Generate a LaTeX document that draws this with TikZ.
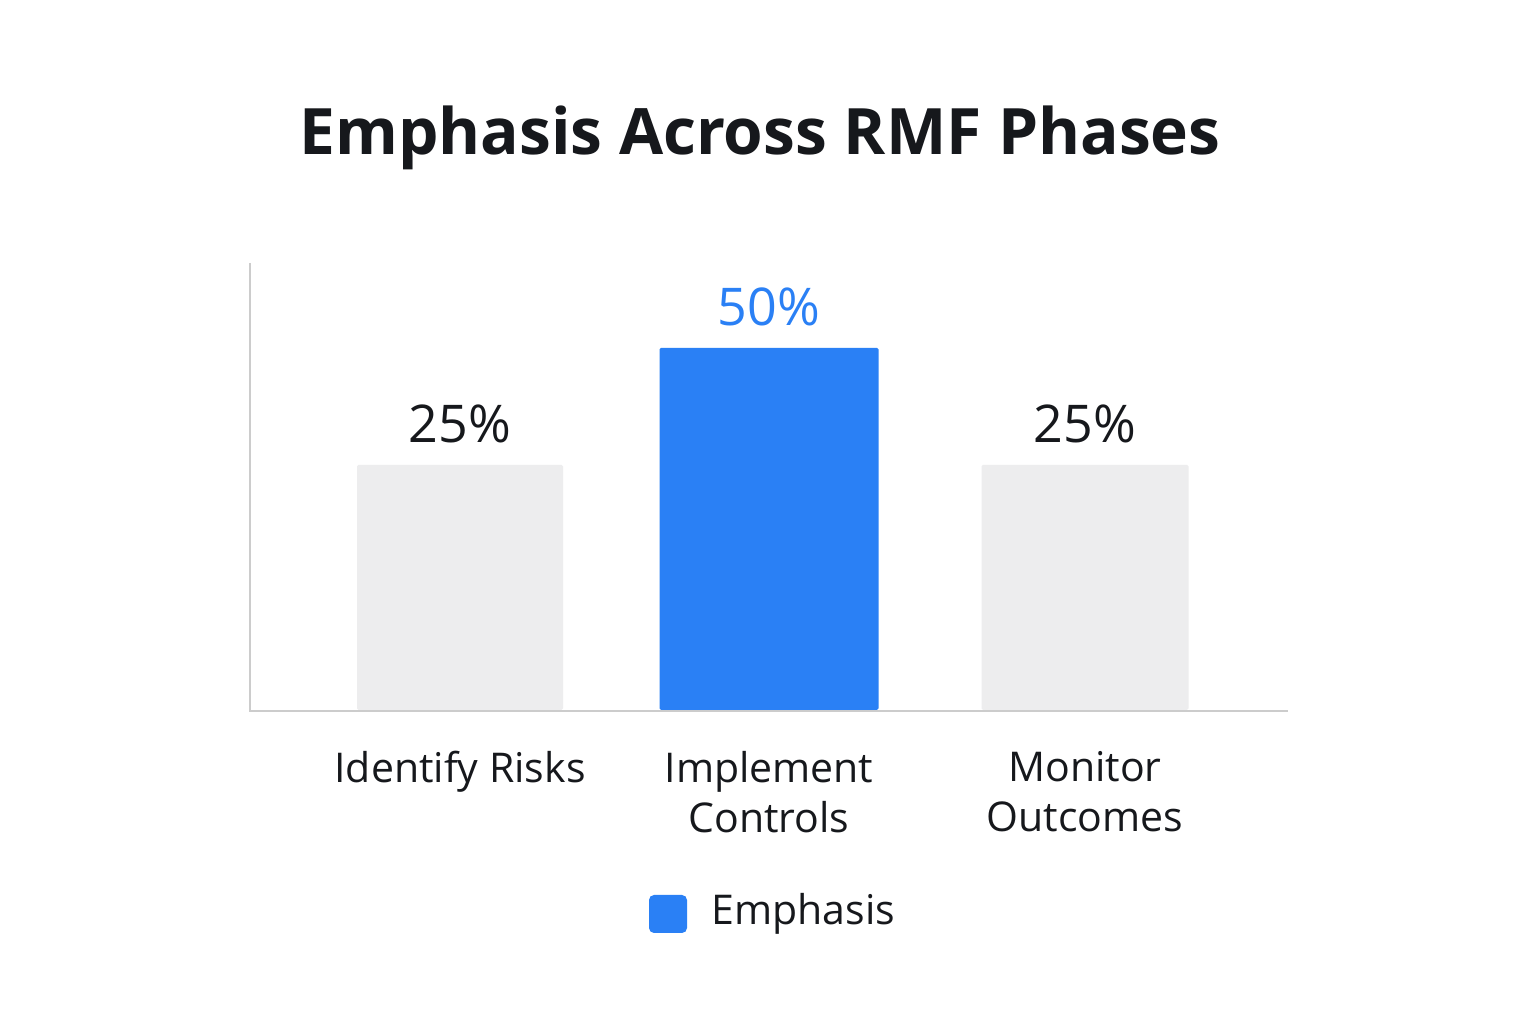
\documentclass[tikz,border=0pt]{standalone}
\usepackage{fontspec}
\setmainfont{Open Sans}
\usetikzlibrary{positioning}
\definecolor{barblue}{HTML}{2A80F5}
\definecolor{bargray}{HTML}{EDEDEE}
\definecolor{axisgray}{HTML}{CCCCCC}
\definecolor{inkblack}{HTML}{16181C}

\begin{document}
\begin{tikzpicture}[x=1pt,y=1pt,
  bar/.style={draw=none,anchor=south,inner sep=0pt,rounded corners=1.5pt},
  pct/.style={inkblack,font=\fontsize{52}{60}\selectfont},
  cat/.style={inkblack,align=center,font=\fontsize{41}{50}\selectfont}]
  \useasboundingbox[fill=white] (0,0) rectangle (1536,1024);
  % title
  \node[inkblack,font=\fontsize{64}{74}\selectfont\bfseries] (title) at (760,886) {Emphasis Across RMF Phases};
  % axes
  \coordinate (top) at (250,761);
  \coordinate (origin) at (250,313);
  \coordinate (right) at (1288,313);
  \draw[axisgray,line width=2.5pt] (top) -- (origin) -- (right);
  % bars
  \node[bar,fill=bargray,minimum width=206pt,minimum height=245pt] (risks) at (460,314) {};
  \node[bar,fill=barblue,minimum width=219pt,minimum height=362pt] (controls) at (769,314) {};
  \node[bar,fill=bargray,minimum width=207pt,minimum height=245pt] (monitor) at (1085,314) {};
  % values
  \node[pct,above=18pt of risks.north] (vrisks) {25\%};
  \node[pct,barblue,above=18pt of controls.north] (vcontrols) {50\%};
  \node[pct,above=18pt of monitor.north] (vmonitor) {25\%};
  % categories
  \node[cat,anchor=north] (lrisks) at (460,276) {Identify Risks};
  \node[cat,anchor=north] (lcontrols) at (769,276) {Implement\\Controls};
  \node[cat,anchor=north] (lmonitor) at (1085,276) {Monitor\\Outcomes};
  % legend
  \node[fill=barblue,rounded corners=5pt,minimum size=38pt,inner sep=0pt] (key) at (668,110) {};
  \node[cat,anchor=west] (keytext) at (708,110) {Emphasis};
\end{tikzpicture}
\end{document}
